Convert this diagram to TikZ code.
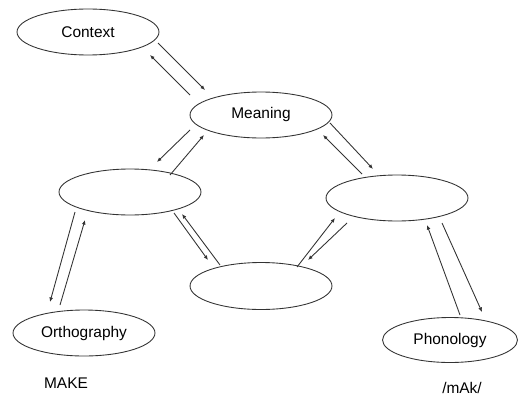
\documentclass[tikz,border=0pt]{standalone}
\usepackage{fontspec}
\setmainfont{Liberation Sans}
\usepackage{tikz}
\usetikzlibrary{shapes.geometric,arrows.meta}

\tikzset{
  unit/.style={ellipse, draw=black!80, line width=0.5pt, inner sep=0pt,
    minimum width=2.84cm, minimum height=0.92cm,
    font=\fontsize{8.8}{10}\selectfont},
  word/.style={inner sep=0pt, font=\fontsize{8.8}{10}\selectfont},
  arr/.style={-{Latex[length=2.6pt,width=2.2pt]}, draw=black!80, line width=0.5pt}
}

\begin{document}
\begin{tikzpicture}[x=0.02cm,y=-0.02cm]
  \useasboundingbox (0,0) rectangle (519,395);

  % units
  \node[unit] (context) at (88,32) {Context};
  \node[unit] (meaning) at (261,115) {Meaning};
  \node[unit] (hidL) at (130,192) {};
  \node[unit] (hidR) at (397,198) {};
  \node[unit, minimum height=0.94cm] (hidB) at (261,286) {};
  \node[unit] (ortho) at (84,333) {Orthography};
  \node[unit, minimum width=2.7cm, minimum height=0.9cm] (phono) at (450,340) {Phonology};

  \node[word] (make) at (66,383) {MAKE};
  \node[word] (mak) at (462,388) {/mAk/};

  % connections, one line each way
  \draw[arr] ([shift={(70,11)}]context.center) -- ([shift={(-56,-25)}]meaning.center);
  \draw[arr] ([shift={(-71,-20)}]meaning.center) -- ([shift={(62,23)}]context.center);

  \draw[arr] ([shift={(-71,15)}]meaning.center) -- ([shift={(27,-30)}]hidL.center);
  \draw[arr] ([shift={(40,-17)}]hidL.center) -- ([shift={(-57,20)}]meaning.center);

  \draw[arr] ([shift={(69,8)}]meaning.center) -- ([shift={(-24,-29)}]hidR.center);
  \draw[arr] ([shift={(-35,-24)}]hidR.center) -- ([shift={(62,20)}]meaning.center);

  \draw[arr] ([shift={(-55,20)}]hidL.center) -- ([shift={(-34,-31)}]ortho.center);
  \draw[arr] ([shift={(-24,-28)}]ortho.center) -- ([shift={(-45,28)}]hidL.center);

  \draw[arr] ([shift={(44,21)}]hidL.center) -- ([shift={(-53,-26)}]hidB.center);
  \draw[arr] ([shift={(-41,-21)}]hidB.center) -- ([shift={(52,22)}]hidL.center);

  \draw[arr] ([shift={(36,-19)}]hidB.center) -- ([shift={(-62,20)}]hidR.center);
  \draw[arr] ([shift={(-50,25)}]hidR.center) -- ([shift={(47,-26)}]hidB.center);

  \draw[arr] ([shift={(45,25)}]hidR.center) -- ([shift={(32,-28)}]phono.center);
  \draw[arr] ([shift={(10,-25)}]phono.center) -- ([shift={(30,27)}]hidR.center);
\end{tikzpicture}
\end{document}
